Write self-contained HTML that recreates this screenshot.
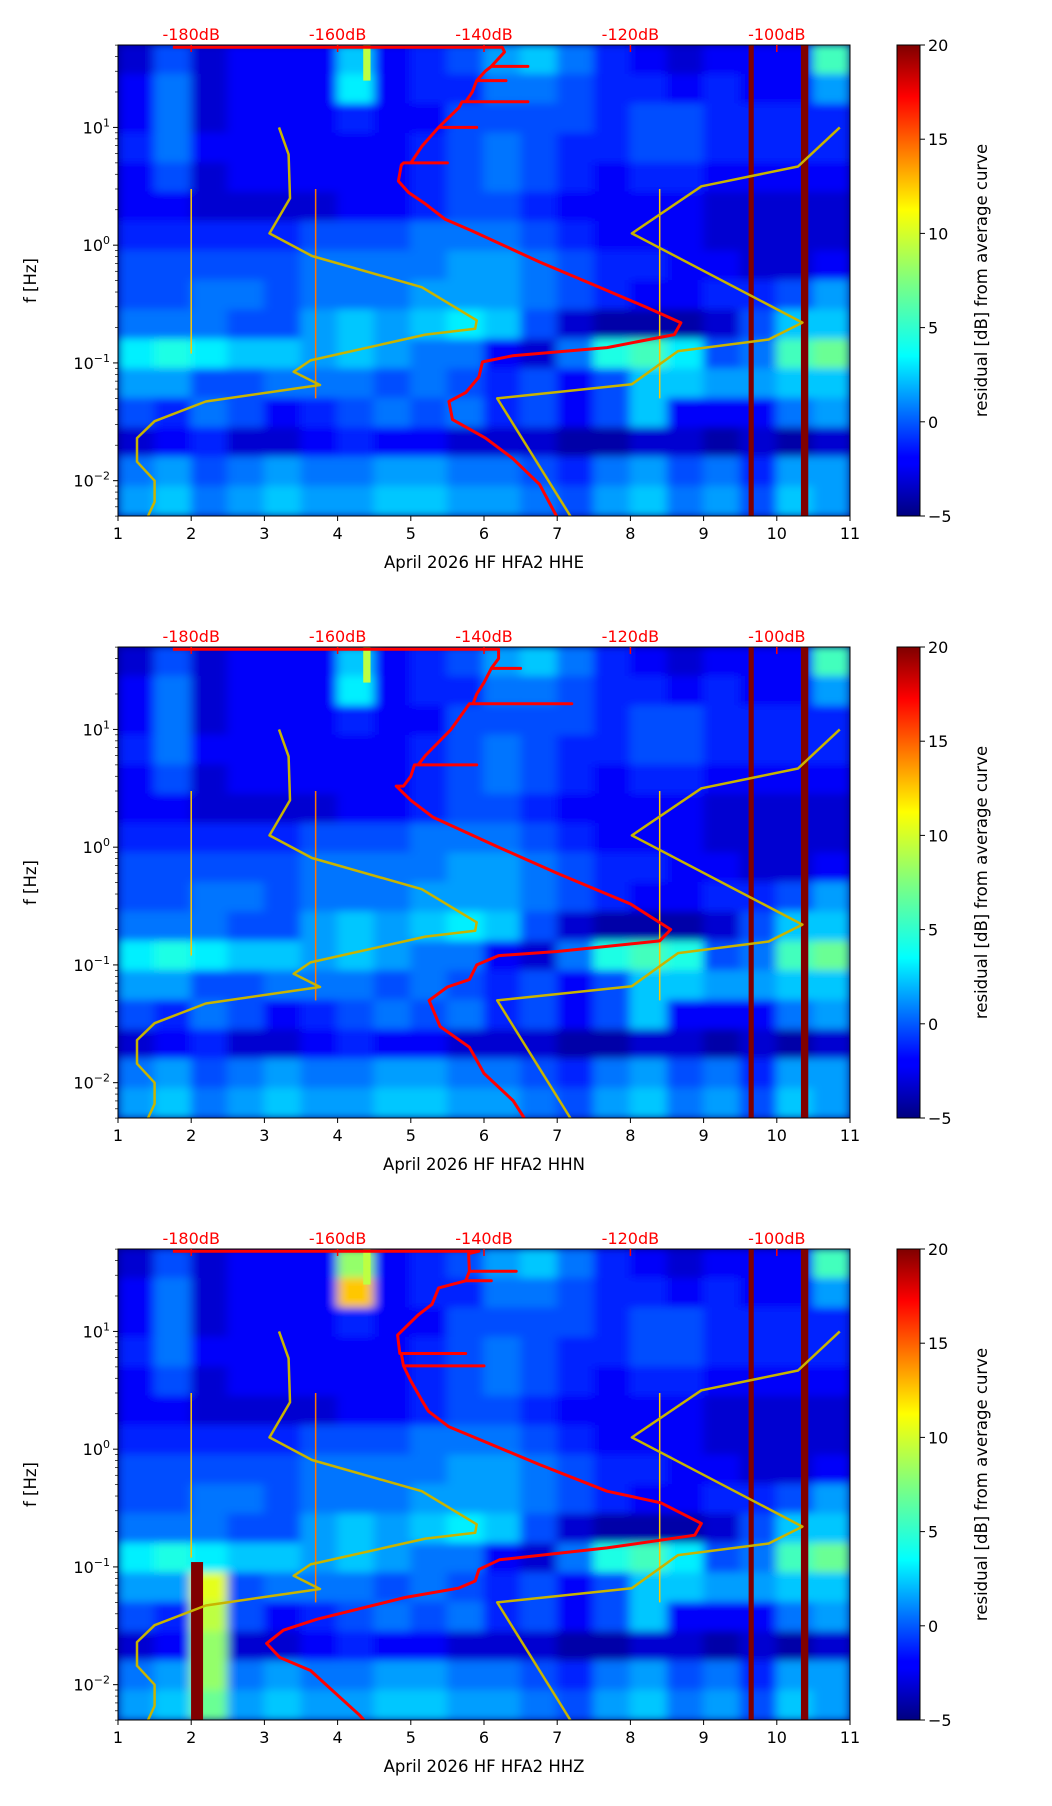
<!DOCTYPE html>
<html><head><meta charset="utf-8">
<style>
html,body{margin:0;padding:0;background:#fff;}
svg{display:block;font-family:"DejaVu Sans","Liberation Sans",sans-serif;}
</style></head>
<body>
<svg id="fig" width="1052" height="1806" viewBox="0 0 1052 1806" xmlns="http://www.w3.org/2000/svg">
<defs>
<filter id="bl" x="-5%" y="-5%" width="110%" height="110%"><feGaussianBlur stdDeviation="5 4"/></filter>
<linearGradient id="jetg" x1="0" y1="1" x2="0" y2="0">
<stop offset="0" stop-color="#00007f"/><stop offset="0.11" stop-color="#0000ff"/><stop offset="0.125" stop-color="#0000ff"/>
<stop offset="0.34" stop-color="#00ffff"/><stop offset="0.5" stop-color="#7fff7f"/><stop offset="0.65" stop-color="#ffff00"/>
<stop offset="0.89" stop-color="#ff0000"/><stop offset="1" stop-color="#7f0000"/>
</linearGradient>
</defs>
</svg>
<script>
// ---- data ----
const channels = ["HHE","HHN","HHZ"];
const dbTicks = [-180,-160,-140,-120,-100];
const xTicks = [1,2,3,4,5,6,7,8,9,10,11];
const yDecades = [-2,-1,0,1];
const cbTicks = [-5,0,5,10,15,20];
// residual grid rows (top 50Hz → bottom 0.005Hz, 0.25 decade rows), columns x=1..11 step 0.5
const gridRows = [
[-3,0,-3,-2,-2,-2,3,-2,-1,0,2,3,1,-1,-2,-3,-2,-2,-2,6],
[-2,1,-3,-2,-2,-2,4,-2,-1,-1,1,1,0,-1,-1,-2,-1,-2,-2,2],
[-2,1,-3,-2,-2,-2,-1,-2,-2,0,0,0,0,-1,0,0,-1,-1,-1,-1],
[-1,1,-2,-2,-2,-2,-2,-2,-1,0,1,0,-1,-1,0,0,-1,-1,-1,-1],
[-2,0,-3,-2,-2,-2,-2,-2,-1,0,1,0,-1,-2,-1,-1,-2,-2,-2,-2],
[-2,-2,-3,-3,-3,-3,-2,-2,-1,0,0,-1,-2,-2,-2,-2,-3,-3,-3,-3],
[-1,-1,-1,-1,-1,0,0,0,1,1,1,0,-1,-2,-2,-2,-3,-3,-3,-3],
[0,0,0,0,0,1,1,1,1,2,2,1,0,-1,-1,-2,-2,-3,-3,-2],
[0,0,1,1,0,1,1,1,2,2,2,1,0,-1,-2,-2,-1,-1,0,2],
[1,1,1,0,0,2,3,2,3,4,3,0,-3,-4,-4,-4,-3,0,3,3],
[4,5,4,3,3,2,3,2,1,1,-2,-3,1,5,6,4,0,1,6,7],
[2,2,0,0,1,1,1,0,1,0,-1,0,-2,0,3,3,2,2,3,3],
[0,-1,1,0,-2,-1,0,1,0,1,-1,0,-2,0,3,-2,-2,-2,1,2],
[-3,-2,-1,-3,-3,-2,-1,-2,-2,-3,-3,-3,-4,-4,-3,-3,-4,-3,-4,-3],
[1,2,0,1,2,1,1,2,2,1,1,0,-1,1,2,0,1,-1,2,2],
[2,3,1,2,3,2,2,3,3,2,2,1,0,2,3,1,2,0,3,2]
];
// thin streaks: x, value, fTop, fBottom, widthUnits
const streakX = [2.0,3.7,8.4,4.4,9.65,10.38];
const streakV = [12,14,12,9,20,20];
const streakTop = [3,3,3,50,50,50];
const streakBot = [0.12,0.05,0.05,25,0.005,0.005];
const streakW = [0.02,0.02,0.02,0.1,0.07,0.1];
// noise models (dB vs Hz)
const nlnmF = [10,5.9,2.5,1.26,0.81,0.44,0.23,0.195,0.174,0.105,0.084,0.065,0.047,0.032,0.023,0.0145,0.01,0.0066,0.005];
const nlnmDb = [-168,-166.7,-166.5,-169.3,-163.5,-148.5,-141,-141.2,-148,-163.7,-166,-162.4,-178,-185,-187.4,-187.4,-185,-185,-185.9];
const nhnmF = [10,4.66,3.16,1.26,0.22,0.158,0.126,0.066,0.05,0.005];
const nhnmDb = [-91.4,-97.1,-110.3,-119.8,-96.5,-101.1,-113.5,-119.8,-138.2,-128.2];
// measured PSD per channel
const psdF = [
[48,48,43.7,33,33,33,30.2,25,25,25,20,16.5,16.5,16.5,14.8,10,10,10,6.9,5,5,5,4.8,3.5,2.8,2.24,1.66,1.32,0.72,0.46,0.295,0.219,0.174,0.135,0.115,0.102,0.076,0.056,0.047,0.033,0.023,0.0155,0.0093,0.005],
[48,48,40,33,33,33,25,20,16.5,16.5,16.5,10,6,5,5,5,4,3.3,3.3,2.5,1.8,1.0,0.6,0.33,0.2,0.16,0.13,0.12,0.1,0.075,0.065,0.05,0.03,0.02,0.012,0.007,0.005],
[48,48,45.7,32.4,32.4,32.4,26.9,26.9,26.9,23.4,17,13.8,9.3,6.5,6.5,6.5,5.1,5.1,5.1,3.8,2.6,2.1,1.55,1.15,0.74,0.44,0.35,0.234,0.186,0.145,0.115,0.095,0.076,0.066,0.055,0.036,0.029,0.0224,0.017,0.0132,0.0055,0.005]
];
const psdDb = [
[-182.5,-137.5,-137.2,-139,-134,-139,-139.8,-141,-137,-141,-141.6,-142.5,-134,-143,-143.4,-146.2,-141,-146.2,-148.5,-150,-145,-151,-151.3,-151.7,-150.3,-148,-145.3,-141.6,-132.4,-125,-117.7,-113.1,-114,-123.2,-136.1,-140.2,-140.7,-142.5,-144.8,-144.3,-139.8,-136.1,-132.4,-130.1],
[-182.5,-138,-138,-139,-135,-139,-140,-141,-141.5,-128,-142,-144.5,-148,-149,-141,-149.5,-150,-151,-152,-150,-147,-138,-130,-120,-114.5,-116,-130,-138,-141,-142,-145,-147.5,-146,-142,-140,-136,-134.5],
[-182.5,-140.7,-142.1,-142,-135.6,-142,-142.5,-139,-142.5,-146.2,-147.1,-149,-151.8,-151.5,-142.5,-151.3,-151,-140,-151,-150,-148.5,-147.6,-144.8,-139.8,-132.4,-123.2,-115.8,-110.3,-111.2,-123.2,-137.9,-140.7,-141.2,-143.5,-150.8,-162.8,-167.4,-169.7,-167.9,-163.7,-157,-156.4]
];
// panel-specific grid overrides: panel, row, col, value
const ovP = [2,2,2,2,2,1,1,2,2];
const ovR = [11,12,13,14,15,10,10,0,1];
const ovC = [2,2,2,2,2,14,15,6,6];
const ovV = [10,9,8,8,7,6,5,8,12];
// panel-3 extra dark-red column
const p3colX = [2.08];
const p3colTop = [0.11];

// ---- layout ----
const L=118, R=850, H=471, tops=[45,647,1249], CBL=897, CBR=920;
const NS="http://www.w3.org/2000/svg";
const svg=document.getElementById('fig');
function el(t,a,p){const e=document.createElementNS(NS,t);for(const k in a)e.setAttribute(k,a[k]);(p||svg).appendChild(e);return e;}
function jet(v){let t=(v+5)/25;t=Math.max(0,Math.min(1,t));
 const c=x=>Math.round(255*Math.max(0,Math.min(1,x)));
 const r=1.5-Math.abs(4*t-3), g=1.5-Math.abs(4*t-2), b=1.5-Math.abs(4*t-1);
 return `rgb(${c(r)},${c(g)},${c(b)})`;}
const xs=x=>L+(x-1)/10*(R-L);
const xdb=d=>xs((d+200)/10);

tops.forEach((T,p)=>{
 const ys=f=>T+(1.7-Math.log10(f))*H/4;
 const g=el('g',{});
 
 
 const cp=el('clipPath',{id:'cp'+p},g); el('rect',{x:L,y:T,width:R-L,height:H},cp);
 const area=el('g',{'clip-path':`url(#cp${p})`},g);
 el('rect',{x:L,y:T,width:R-L,height:H,fill:'#00007f'},area);
 const hg=el('g',{filter:'url(#bl)'},area);
 
 
 gridRows.forEach((row,ri)=>{row.forEach((v,ci)=>{
   let val=v;
   for(let k=0;k<ovP.length;k++) if(ovP[k]===p&&ovR[k]===ri&&ovC[k]===ci) val=ovV[k];
   const x0=xs(1+ci*0.5), x1=xs(1.5+ci*0.5);
   const y0=ys(Math.pow(10,1.7-ri*0.25)), y1=ys(Math.pow(10,1.7-(ri+1)*0.25));
   const c=el('rect',{x:x0-0.5,y:y0-0.5,width:x1-x0+1,height:y1-y0+1,fill:jet(val)},hg);
   
   
 });});
 streakX.forEach((sx,i)=>{
   const w=Math.max(1.5,streakW[i]/10*(R-L));
   const s=el('rect',{x:xs(sx)-w/2,y:ys(streakTop[i]),width:w,height:ys(streakBot[i])-ys(streakTop[i]),fill:jet(streakV[i])},area);
   
   
 });
 if(p===2){p3colX.forEach((cx,i)=>{
   const s=el('rect',{x:xs(cx)-6,y:ys(p3colTop[i]),width:12,height:T+H-ys(p3colTop[i]),fill:jet(20)},area);
   
   
 });}
 const line=(F,D,col,w,name)=>{
   const pts=F.map((f,i)=>xdb(D[i]).toFixed(1)+','+ys(f).toFixed(1)).join(' ');
   const pl=el('polyline',{points:pts,fill:'none',stroke:col,'stroke-width':w,'stroke-linejoin':'round'},area);
   
   
 };
 line(nlnmF,nlnmDb,'#c8b400',2.5,'nlnm-curve');
 line(nhnmF,nhnmDb,'#c8b400',2.5,'nhnm-curve');
 line(psdF[p],psdDb[p],'#ff0000',3,'psd-curve');
 el('rect',{x:L,y:T,width:R-L,height:H,fill:'none',stroke:'#000','stroke-width':1},g);
 dbTicks.forEach(d=>{
   el('line',{x1:xdb(d),x2:xdb(d),y1:T,y2:T+7,stroke:'#ff0000','stroke-width':1.5},g);
   const t=el('text',{x:xdb(d),y:T-5,'text-anchor':'middle','font-size':16,fill:'#ff0000'},g);
   t.textContent=d+'dB';
   
   
 });
 xTicks.forEach(x=>{
   el('line',{x1:xs(x),x2:xs(x),y1:T+H,y2:T+H+5,stroke:'#000'},g);
   const t=el('text',{x:xs(x),y:T+H+23,'text-anchor':'middle','font-size':16},g);
   t.textContent=x;
   
   
 });
 for(let d=-3;d<=1;d++)for(let m=1;m<10;m++){const f=m*Math.pow(10,d);if(f<0.005||f>50)continue;
   el('line',{x1:L,x2:L-(m===1?5:3),y1:ys(f),y2:ys(f),stroke:'#000','stroke-width':m===1?1:0.7},g);}
 yDecades.forEach(d=>{
   const t=el('text',{x:L-8,y:ys(Math.pow(10,d))+6,'text-anchor':'end','font-size':16},g);
   t.textContent='10';
   const s=el('tspan',{dy:-7,'font-size':11},t); s.textContent=String(d).replace('-','−');
   
   
 });
 const xl=el('text',{x:(L+R)/2,y:T+H+52,'text-anchor':'middle','font-size':16.5},g);
 xl.textContent='April 2026 HF HFA2  '+channels[p];
 
 
 const yl=el('text',{x:0,y:0,'text-anchor':'middle','font-size':16.5,transform:`translate(36,${T+H/2}) rotate(-90)`},g);
 yl.textContent='f [Hz]';
 
 
 const cb=el('rect',{x:CBL,y:T,width:CBR-CBL,height:H,fill:'url(#jetg)',stroke:'#000','stroke-width':1},g);
 
 
 cbTicks.forEach(v=>{const y=T+H-(v+5)/25*H;
   el('line',{x1:CBR,x2:CBR+5,y1:y,y2:y,stroke:'#000'},g);
   const t=el('text',{x:CBR+8,y:y+6,'font-size':16},g); t.textContent=String(v).replace('-','−');
   
   });
 const cl=el('text',{x:0,y:0,'text-anchor':'middle','font-size':16.5,transform:`translate(987,${T+H/2}) rotate(-90)`},g);
 cl.textContent='residual [dB] from average curve';
 
 
});
</script>
</body></html>
